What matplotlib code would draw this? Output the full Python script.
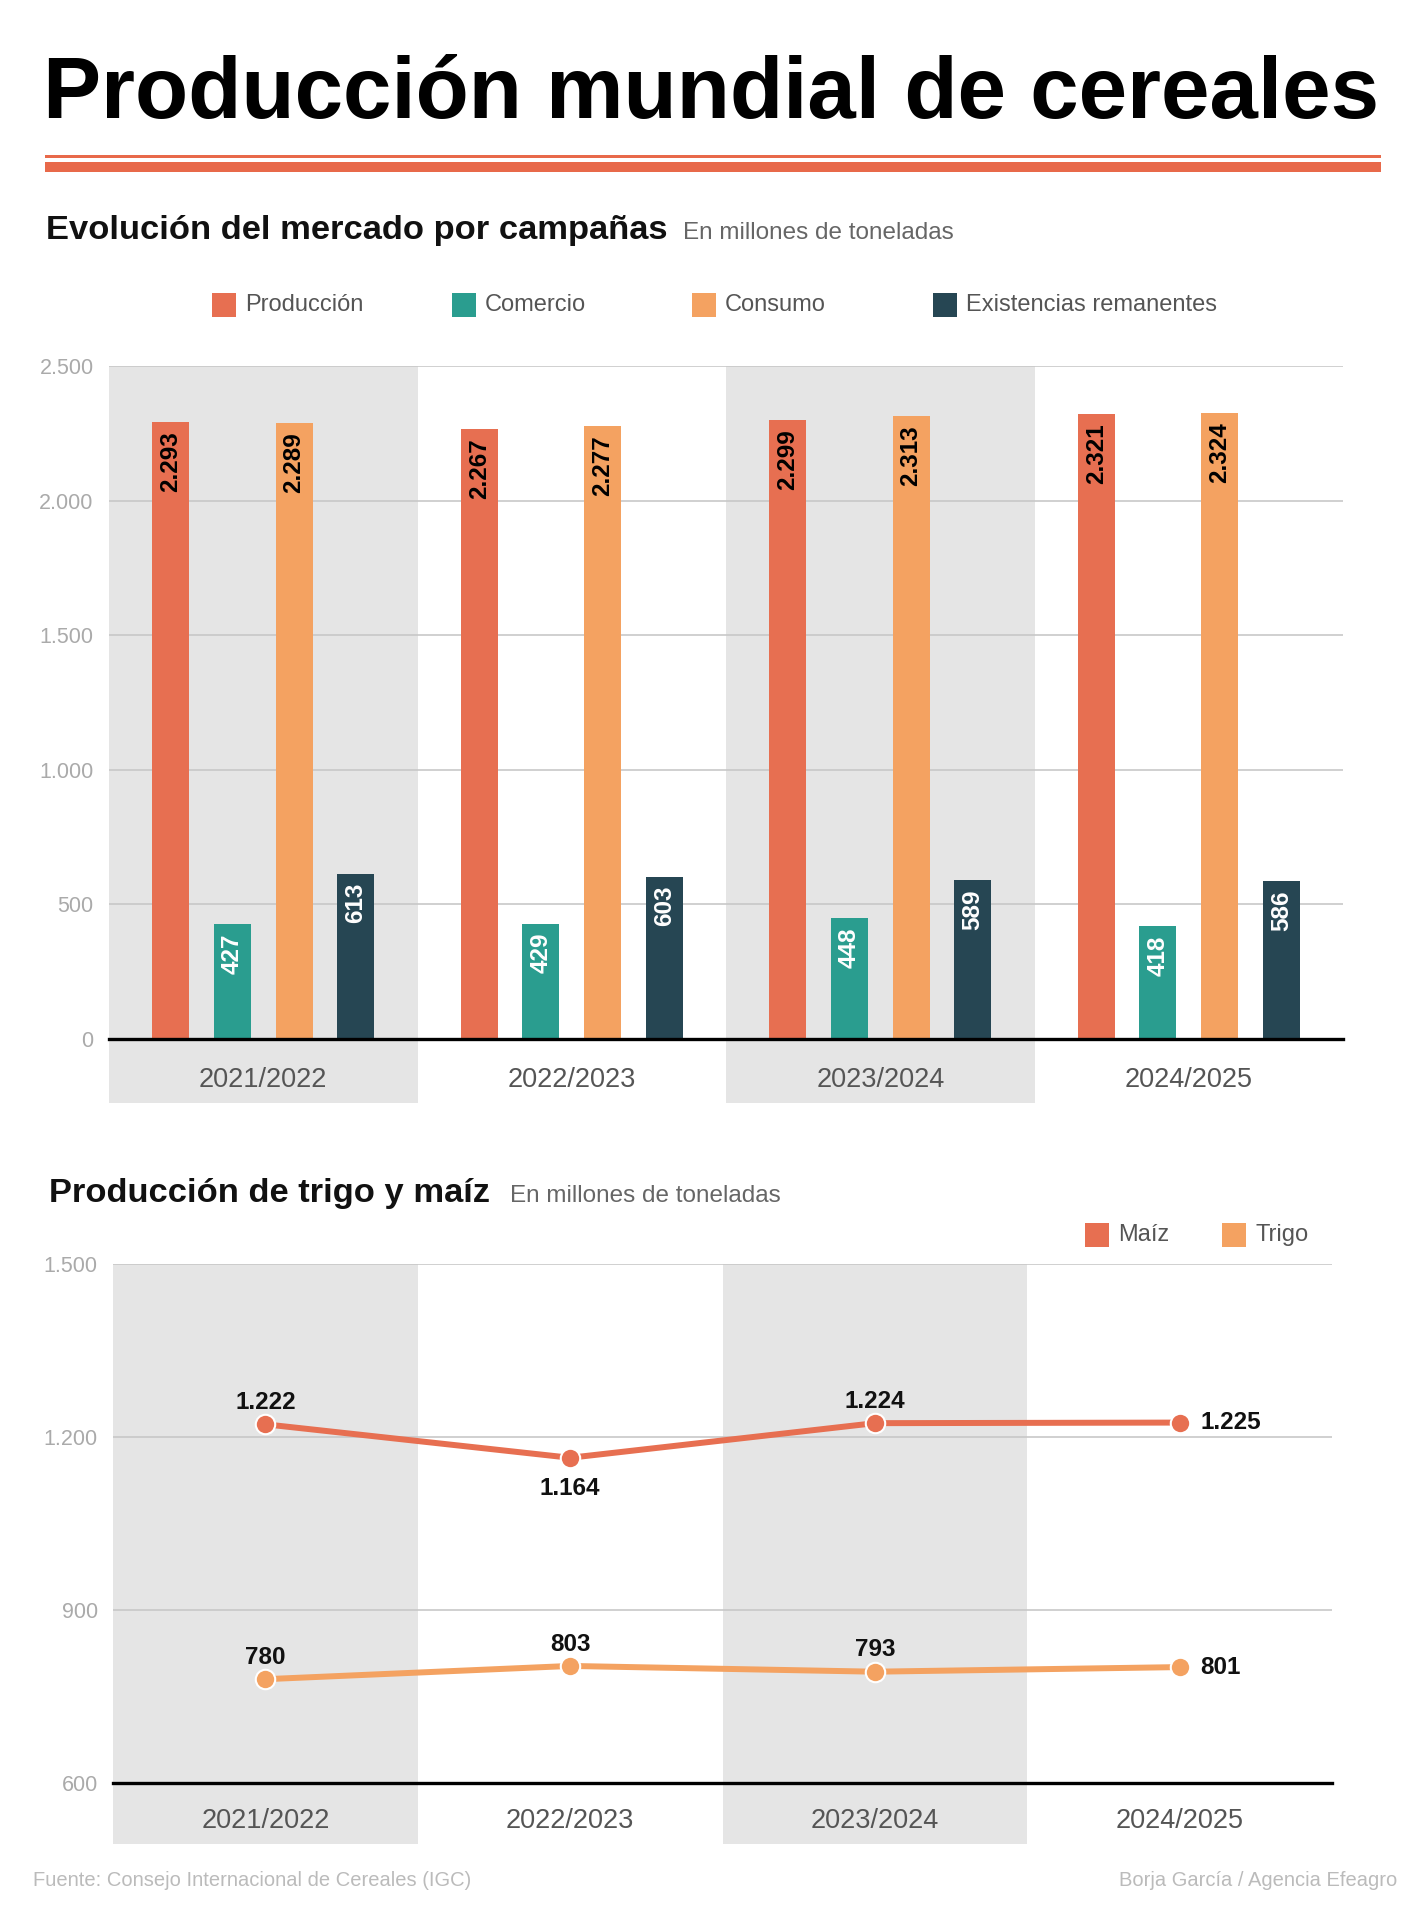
import matplotlib.pyplot as plt
from matplotlib.patches import Rectangle

# ---- data ----
campaigns = ['2021/2022', '2022/2023', '2023/2024', '2024/2025']
series = ['Producción', 'Comercio', 'Consumo', 'Existencias remanentes']
produccion = [2293, 2267, 2299, 2321]
comercio = [427, 429, 448, 418]
consumo = [2289, 2277, 2313, 2324]
existencias = [613, 603, 589, 586]
bar_ticks = [0, 500, 1000, 1500, 2000, 2500]

maiz = [1222, 1164, 1224, 1225]
trigo = [780, 803, 793, 801]
line_ticks = [600, 900, 1200, 1500]

colors = ['#e76f51', '#2a9d8f', '#f4a261', '#264653']
label_colors = ['black', 'white', 'black', 'white']
band = '#e5e5e5'

W, H = 1426, 1920
NARROW = ['Liberation Sans Narrow', 'Liberation Sans', 'DejaVu Sans']
BOLD = ['Liberation Sans', 'DejaVu Sans']


def fx(px):
    return px / W


def fy(py):
    return 1 - py / H


def fmt(v):
    return f'{v:,}'.replace(',', '.')


fig = plt.figure(figsize=(W / 100, H / 100), dpi=100)
fig.patch.set_facecolor('white')

# title and double rule
fig.text(fx(43), fy(118), 'Producción mundial de cereales', family=BOLD,
         weight='bold', fontsize=62.7, va='baseline', ha='left')
fig.add_artist(Rectangle((fx(45), fy(157.5)), fx(1381) - fx(45), 2.5 / H,
                         transform=fig.transFigure, color='#e8694a', lw=0))
fig.add_artist(Rectangle((fx(45), fy(172)), fx(1381) - fx(45), 10 / H,
                         transform=fig.transFigure, color='#e8694a', lw=0))


def subtitle(x, y, bold_text, gray_x, gray_text):
    fig.text(fx(x), fy(y), bold_text, family=BOLD, weight='bold',
             fontsize=24.8, va='baseline', color='#111111')
    fig.text(fx(gray_x), fy(y), gray_text, family=NARROW, fontsize=17.5,
             va='baseline', color='#666666')


def legend_item(x, yc, color, text, size=24):
    fig.add_artist(Rectangle((fx(x), fy(yc + size / 2)), size / W, size / H,
                             transform=fig.transFigure, color=color, lw=0))
    fig.text(fx(x + 33), fy(yc), text, family=NARROW, fontsize=17,
             va='center', color='#555555')


def bands(ax, below):
    for i in range(0, len(campaigns), 2):
        ax.add_patch(Rectangle((i - 0.5, -below), 1, 1 + below,
                               transform=ax.get_xaxis_transform(),
                               color=band, lw=0, zorder=0, clip_on=False))


def style_axes(ax, ticks, pad_cat):
    ax.set_facecolor('none')
    ax.set_xlim(-0.5, len(campaigns) - 0.5)
    ax.set_yticks(ticks, [fmt(t) for t in ticks])
    ax.set_xticks(range(len(campaigns)), campaigns)
    ax.tick_params(axis='y', length=0, pad=11, labelsize=15.5,
                   labelcolor='#aaaaaa')
    ax.tick_params(axis='x', length=0, pad=pad_cat, labelsize=19.5,
                   labelcolor='#555555')
    for lab in ax.get_xticklabels() + ax.get_yticklabels():
        lab.set_family(NARROW)
    ax.grid(axis='y', color='#c8c8c8', lw=1.2, zorder=1)
    ax.set_axisbelow(False)
    for s in ['top', 'right', 'left']:
        ax.spines[s].set_visible(False)
    ax.spines['bottom'].set_color('black')
    ax.spines['bottom'].set_linewidth(2.4)
    ax.spines['bottom'].set_zorder(5)


# ---- bar chart ----
subtitle(46, 239, 'Evolución del mercado por campañas', 683,
         'En millones de toneladas')
for i, (x, name) in enumerate(zip([212, 452, 692, 933], series)):
    legend_item(x, 305, colors[i], name)

ax1 = fig.add_axes([fx(109), fy(1039), fx(1343) - fx(109), (1039 - 366) / H])
ax1.set_ylim(0, 2500)
bands(ax1, 63.6 / 673)
style_axes(ax1, bar_ticks, 20)
ax1.yaxis.get_gridlines()[0].set_visible(False)

offsets = [-0.3, -0.1, 0.1, 0.3]
for k, vals in enumerate([produccion, comercio, consumo, existencias]):
    xs = [i + offsets[k] for i in range(len(campaigns))]
    ax1.bar(xs, vals, width=0.12, color=colors[k], zorder=3)
    for x, v in zip(xs, vals):
        ax1.annotate(fmt(v), (x, v), xytext=(0, -6.5),
                     textcoords='offset points', rotation=90, ha='center',
                     va='top', family=NARROW, weight='bold', fontsize=17.5,
                     color=label_colors[k], zorder=4)

# ---- line chart ----
subtitle(49, 1202, 'Producción de trigo y maíz', 510,
         'En millones de toneladas')
legend_item(1085, 1235, colors[0], 'Maíz')
legend_item(1222, 1235, colors[2], 'Trigo')

ax2 = fig.add_axes([fx(113), fy(1783), fx(1332) - fx(113), (1783 - 1264) / H])
ax2.set_ylim(600, 1500)
bands(ax2, 61 / 519)
style_axes(ax2, line_ticks, 18)
ax2.yaxis.get_gridlines()[0].set_visible(False)

label_pos = {'maiz': ['up', 'down', 'up', 'right'],
             'trigo': ['up', 'up', 'up', 'right']}
offs = {'up': ((0, 11), 'center', 'baseline'),
        'down': ((0, -14), 'center', 'top'),
        'right': ((15, 0), 'left', 'center')}
xs = list(range(len(campaigns)))
for vals, color, key in [(maiz, colors[0], 'maiz'), (trigo, colors[2], 'trigo')]:
    ax2.plot(xs, vals, color=color, lw=4.3, marker='o', markersize=14,
             markeredgecolor='white', markeredgewidth=1.5, zorder=3)
    for x, v, p in zip(xs, vals, label_pos[key]):
        off, ha, va = offs[p]
        ax2.annotate(fmt(v), (x, v), xytext=off, textcoords='offset points',
                     ha=ha, va=va, family=NARROW, weight='bold', fontsize=17.5,
                     color='#111111', zorder=4)

# ---- footer ----
fig.text(fx(33), fy(1881), 'Fuente: Consejo Internacional de Cereales (IGC)',
         family=NARROW, fontsize=14.5, va='center', color='#bbbbbb')
fig.text(fx(1397), fy(1881), 'Borja García / Agencia Efeagro', family=NARROW,
         fontsize=14.5, va='center', ha='right', color='#bbbbbb')

fig.savefig('out.png', dpi=100, facecolor='white')
